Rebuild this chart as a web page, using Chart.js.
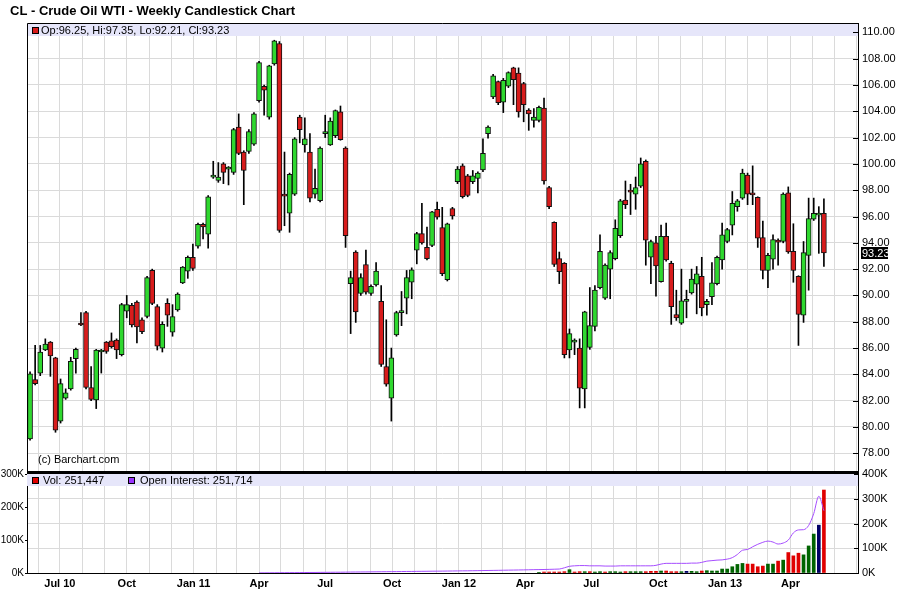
<!DOCTYPE html>
<html>
<head>
<meta charset="utf-8">
<title>CL - Crude Oil WTI - Weekly Candlestick Chart</title>
<script src="https://cdn.jsdelivr.net/npm/chart.js@4.4.1/dist/chart.umd.min.js"></script>
<style>
  html, body { margin: 0; padding: 0; background: #fff; }
  #wrap { position: relative; width: 897px; height: 594px; overflow: hidden; }
  #wrap canvas { position: absolute; left: 0; }
  #priceChart { top: 0; }
  #volChart { top: 466px; }
</style>
</head>
<body>
<div id="wrap">
  <canvas id="priceChart" width="897" height="471"></canvas>
  <canvas id="volChart" width="897" height="128"></canvas>
</div>
<script>
// Weekly bars, bar 0 is the week of 17 May 2010, last bar is the week of 13 May 2013
const opens = [
  79.1, 83.6, 84.1, 85.85, 86.45, 85.25, 80.45, 82.2, 82.9, 85.2,
  87.8, 88.7, 83.0, 82.05, 85.7, 86.45, 86.55, 86.6, 85.5, 88.8,
  89.25, 89.5, 88.15, 88.4, 91.9, 89.15, 86.0, 89.4, 87.2, 88.9,
  90.95, 91.85, 92.9, 93.75, 95.4, 94.65, 99.0, 98.75, 100.0, 99.6,
  99.35, 102.8, 100.9, 100.95, 101.5, 104.8, 105.9, 103.55, 107.6, 109.15,
  97.6, 96.25, 97.7, 103.55, 101.45, 100.9, 97.7, 97.2, 102.3, 101.45,
  102.15, 103.95, 101.2, 90.9, 93.3, 90.15, 92.35, 90.15, 90.8, 89.55,
  84.6, 82.2, 87.0, 88.7, 89.8, 91.0, 93.45, 94.7, 93.65, 93.8,
  96.55, 95.15, 91.2, 96.6, 98.65, 99.85, 99.1, 98.65, 98.9, 99.55,
  102.3, 105.1, 106.25, 104.7, 105.9, 107.3, 106.9, 106.1, 104.1, 103.3,
  103.3, 104.25, 98.2, 95.55, 92.8, 92.45, 85.85, 86.45, 86.0, 82.9,
  86.05, 87.65, 90.6, 89.8, 92.0, 92.8, 94.55, 97.25, 97.9, 97.7,
  98.3, 100.2, 92.9, 94.0, 91.05, 94.5, 92.45, 88.55, 87.9, 89.55,
  90.2, 90.85, 91.45, 89.3, 89.9, 90.9, 92.7, 94.1, 95.35, 96.75,
  97.4, 99.15, 97.7, 97.45, 94.4, 91.9, 92.75, 94.1, 94.1, 97.8,
  93.35, 91.45, 88.5, 93.05, 95.8, 96.1, 96.25
];
const highs = [
  84.2, 86.2, 86.2, 86.7, 86.5, 85.3, 83.65, 82.9, 85.3, 86.0,
  88.7, 88.8, 84.6, 85.9, 85.9, 86.5, 87.15, 86.7, 89.4, 90.0,
  89.4, 89.6, 88.3, 91.45, 92.0, 89.3, 88.0, 89.75, 89.3, 90.2,
  92.2, 93.0, 93.9, 95.5, 95.5, 97.6, 100.2, 100.1, 100.1, 99.8,
  102.7, 103.8, 101.0, 102.6, 103.9, 107.8, 106.0, 107.5, 109.4, 109.3,
  100.9, 99.3, 102.0, 103.7, 103.5, 102.3, 99.6, 101.3, 103.7, 103.5,
  104.1, 104.4, 101.3, 91.85, 93.4, 91.65, 93.45, 90.8, 92.5, 90.75,
  88.15, 86.0, 88.8, 90.3, 91.9, 92.1, 94.8, 97.0, 95.2, 96.4,
  97.1, 96.7, 95.5, 96.7, 99.8, 100.0, 99.2, 99.5, 99.4, 101.9,
  102.9, 106.8, 106.3, 106.5, 107.0, 107.35, 107.3, 106.2, 104.2, 104.2,
  104.4, 105.0, 98.3, 95.6, 93.3, 92.5, 87.45, 86.7, 86.7, 88.8,
  90.6, 90.75, 94.6, 92.4, 93.4, 95.75, 97.3, 98.7, 98.45, 99.0,
  100.45, 100.3, 94.2, 94.5, 95.35, 95.5, 92.6, 90.4, 92.0, 90.4,
  92.0, 92.2, 92.9, 89.7, 92.5, 93.0, 95.5, 95.1, 97.9, 97.3,
  99.6, 99.3, 99.85, 97.5, 95.65, 93.2, 94.6, 94.3, 97.8, 98.25,
  95.45, 91.5, 94.1, 97.4, 97.4, 96.75, 97.35
];
const lows = [
  79.0, 83.2, 83.9, 85.8, 83.85, 79.6, 80.3, 82.1, 82.8, 84.1,
  87.7, 82.9, 82.0, 81.4, 84.1, 85.6, 86.0, 85.2, 85.4, 88.3,
  87.6, 86.4, 87.1, 88.3, 89.3, 85.85, 85.7, 87.65, 86.9, 88.8,
  90.9, 91.3, 91.9, 93.6, 94.3, 93.6, 98.9, 98.6, 98.5, 98.4,
  99.2, 100.7, 96.9, 100.8, 101.4, 104.7, 103.7, 103.4, 107.5, 94.8,
  95.3, 94.8, 97.6, 101.6, 100.9, 97.1, 97.4, 97.1, 102.0, 101.4,
  102.0, 101.8, 93.65, 87.1, 87.95, 90.0, 90.1, 90.0, 90.7, 84.6,
  83.1, 80.45, 86.9, 87.7, 88.6, 89.75, 92.4, 93.9, 92.7, 93.7,
  95.8, 91.5, 91.1, 95.8, 98.5, 97.4, 97.5, 98.5, 97.8, 99.4,
  101.95, 104.95, 104.5, 103.9, 105.8, 104.5, 103.55, 103.2, 102.55, 102.8,
  103.2, 98.45, 96.6, 92.2, 90.9, 85.25, 85.25, 85.5, 81.45, 81.45,
  85.9, 87.3, 90.5, 89.7, 89.75, 92.7, 94.4, 96.6, 96.15, 96.55,
  98.2, 92.3, 90.9, 89.95, 91.0, 92.6, 87.8, 88.1, 87.8, 88.3,
  90.1, 88.6, 88.45, 88.5, 89.3, 90.8, 92.0, 94.0, 94.6, 96.4,
  97.3, 96.9, 96.9, 93.65, 91.25, 90.6, 92.0, 92.3, 94.0, 93.2,
  91.0, 86.2, 87.95, 90.4, 95.7, 93.2, 92.21
];
const closes = [
  84.05, 83.3, 85.7, 86.3, 85.4, 79.75, 83.3, 82.6, 85.0, 85.9,
  87.75, 83.0, 82.1, 85.85, 85.75, 85.75, 86.1, 85.85, 89.3, 89.3,
  87.75, 87.6, 87.25, 91.35, 89.4, 86.15, 87.8, 88.5, 88.4, 90.1,
  92.15, 92.9, 92.05, 95.4, 95.2, 97.5, 99.05, 99.0, 99.35, 99.6,
  102.6, 100.8, 99.5, 102.45, 103.8, 107.7, 105.6, 107.45, 109.35, 94.95,
  97.55, 99.2, 101.9, 102.6, 101.9, 97.4, 98.15, 101.2, 102.3, 103.25,
  104.05, 101.85, 94.55, 91.35, 88.75, 91.35, 90.25, 90.7, 91.85, 84.75,
  83.25, 85.25, 88.7, 88.75, 91.35, 91.95, 94.7, 94.0, 92.8, 96.35,
  95.95, 91.65, 95.45, 96.05, 99.6, 97.5, 97.6, 99.1, 99.3, 100.8,
  102.8, 106.7, 104.65, 106.35, 106.95, 106.4, 103.95, 104.5, 103.8, 103.55,
  104.3, 98.7, 96.75, 92.35, 91.8, 85.5, 87.1, 86.6, 82.95, 88.75,
  87.7, 90.4, 93.35, 92.3, 93.25, 95.1, 97.2, 96.9, 97.85, 98.2,
  100.0, 94.2, 94.1, 92.25, 94.5, 92.7, 89.15, 88.3, 89.6, 89.6,
  91.25, 91.65, 89.05, 89.55, 90.95, 92.9, 94.6, 95.0, 97.0, 97.2,
  99.3, 97.7, 97.65, 94.35, 91.9, 93.05, 94.25, 94.05, 97.7, 93.3,
  91.9, 88.55, 93.25, 95.85, 96.25, 96.25, 93.23
];

// volume starts at bar 100, open interest at bar 45
const volStart = 100;
const volume = [
  2000, 3000, 3000, 3000, 3000, 4000, 10000, 3000, 4000, 4000,
  4000, 3000, 4000, 3000, 4000, 4000, 3000, 4000, 4000, 4000,
  4000, 4000, 5000, 5000, 6000, 6000, 4000, 4000, 4000, 5000,
  5000, 4000, 6000, 7000, 6000, 6000, 12000, 12000, 19000, 26000,
  29000, 27000, 27000, 19000, 21000, 27000, 27000, 36000, 39000, 62000,
  52000, 60000, 55000, 82000, 118000, 145000, 251447
];
const oiStart = 45;
const openInterest = [
  400, 600, 700, 900, 1100, 1200, 1400, 1500, 1700, 1900, 2100, 2200, 2500, 2700, 2900,
  3100, 3200, 3500, 3800, 4000, 4200, 4300, 4600, 4800, 5100, 5300, 5500, 5600, 5900, 6200,
  6300, 6600, 6800, 7000, 7300, 7400, 7600, 7900, 8100, 8400, 8700, 8900, 9200, 9500, 9900,
  10200, 10500, 10800, 11200, 11600, 11900, 12200, 12600, 13000, 13500, 13800, 14200, 14700, 15300, 16000,
  21000, 27000, 29000, 30000, 30000, 29000, 29000, 29000, 28000, 28000, 28000, 29000,
  29000, 29000, 29000, 29000, 29000, 29000, 31000, 36000, 39000, 39000, 39000, 39000,
  39000, 40000, 40000, 43000, 48000, 50000, 52000, 53000, 56000, 62000, 75000, 92000,
  95000, 106000, 116000, 124000, 129000, 125000, 117000, 121000, 133000, 162000, 174000, 175000,
  192000, 240000, 310000, 251714
];

const priceTicks = [78, 80, 82, 84, 86, 88, 90, 92, 94, 96, 98, 100, 102, 104, 106, 108, 110];
const volTicks = [0, 100000, 200000, 300000];
const oiTicks = [0, 100000, 200000, 300000, 400000];
const tickMonths = ['2010-07', '2010-10', '2011-01', '2011-04', '2011-07', '2011-10',
                    '2012-01', '2012-04', '2012-07', '2012-10', '2013-01', '2013-04'];
const tickLabels = ['Jul 10', 'Oct', 'Jan 11', 'Apr', 'Jul', 'Oct',
                    'Jan 12', 'Apr', 'Jul', 'Oct', 'Jan 13', 'Apr'];

const FONT = '"Liberation Sans", Arial, sans-serif';
const UP = '#2fd82f';
const DOWN = '#d81c1c';
const BAND = '#e6e6fa';
const GRID = '#dadada';
const X_MIN = -0.6;
const X_MAX = 162.7;

Chart.defaults.font.family = FONT;
Chart.defaults.font.size = 11;
Chart.defaults.color = '#000';

// month grid lines on the week axis
const weekZero = Date.UTC(2010, 4, 21);
const weekMs = 7 * 86400000;
const monthGrid = [];
for (let y = 2010; y <= 2013; y++) {
  for (let m = 0; m < 12; m++) {
    const pos = (Date.UTC(y, m, 1) - weekZero) / weekMs;
    if (pos <= X_MIN || pos >= X_MAX) continue;
    const key = y + '-' + String(m + 1).padStart(2, '0');
    const k = tickMonths.indexOf(key);
    monthGrid.push({ value: pos, label: k >= 0 ? tickLabels[k] : '' });
  }
}

const bodyColors = closes.map((c, i) => c >= opens[i] ? UP : DOWN);
const volColors = volume.map((v, k) => {
  const i = volStart + k;
  const d = closes[i] - closes[i - 1];
  if (Math.abs(d) < 0.001) return '#000066';
  return d > 0 ? '#006400' : '#e00000';
});

function noPad(s) {
  s.paddingTop = 0; s.paddingBottom = 0; s.paddingLeft = 0; s.paddingRight = 0;
}

function monthAxis(showLabels, height) {
  return {
    type: 'linear',
    offset: false,
    min: X_MIN,
    max: X_MAX,
    afterBuildTicks: ax => { ax.ticks = monthGrid.map(t => ({ value: t.value })); },
    ticks: {
      display: showLabels,
      autoSkip: false,
      maxRotation: 0,
      padding: 4,
      font: { size: 11, weight: 'bold' },
      callback: (v, i) => monthGrid[i] ? monthGrid[i].label : ''
    },
    grid: { color: GRID, drawTicks: false, offset: false },
    border: { display: showLabels, color: '#000' },
    afterFit: s => { s.height = height; noPad(s); }
  };
}

// Price panel decorations
const pricePanel = {
  id: 'pricePanel',
  beforeDatasetsDraw(chart) {
    const { ctx, chartArea: a } = chart;
    ctx.save();
    ctx.fillStyle = BAND;
    ctx.fillRect(a.left, a.top, a.right - a.left, 13);
    ctx.restore();
  },
  afterDraw(chart) {
    const { ctx, chartArea: a, scales } = chart;
    const last = closes.length - 1;
    ctx.save();
    ctx.strokeStyle = '#000';
    ctx.lineWidth = 1;
    ctx.beginPath();
    ctx.moveTo(a.left + 0.5, a.bottom);
    ctx.lineTo(a.left + 0.5, a.top + 0.5);
    ctx.lineTo(a.right, a.top + 0.5);
    priceTicks.forEach(v => {
      const y = Math.round(scales.y.getPixelForValue(v)) + 0.5;
      ctx.moveTo(a.right - 5, y);
      ctx.lineTo(a.right, y);
    });
    ctx.stroke();

    // title
    ctx.fillStyle = '#000';
    ctx.font = 'bold 13px ' + FONT;
    ctx.textBaseline = 'alphabetic';
    ctx.fillText('CL - Crude Oil WTI - Weekly Candlestick Chart', 10, 15);

    // legend
    ctx.fillStyle = DOWN;
    ctx.fillRect(32, 27, 7, 7);
    ctx.strokeRect(32.5, 27.5, 6, 6);
    ctx.fillStyle = '#000';
    ctx.font = '11px ' + FONT;
    ctx.fillText('Op:' + opens[last].toFixed(2) + ', Hi:' + highs[last].toFixed(2) +
      ', Lo:' + lows[last].toFixed(2) + ', Cl:' + closes[last].toFixed(2), 41, 34);

    ctx.fillText('(c) Barchart.com', 38, 463);

    // last price marker
    const yl = scales.y.getPixelForValue(closes[last]);
    ctx.fillStyle = '#000';
    ctx.fillRect(861, Math.round(yl) - 6, 27, 12);
    ctx.fillStyle = '#fff';
    ctx.textBaseline = 'middle';
    ctx.fillText(closes[last].toFixed(2), 862, Math.round(yl) + 0.5);
    ctx.restore();
  }
};

new Chart(document.getElementById('priceChart'), {
  type: 'bar',
  data: {
    datasets: [
      {
        label: 'Range',
        data: closes.map((c, i) => ({ x: i, y: [lows[i], highs[i]] })),
        backgroundColor: '#000',
        barThickness: 1,
        maxBarThickness: 1,
        grouped: false,
        order: 2
      },
      {
        label: 'Body',
        data: closes.map((c, i) => ({ x: i, y: [opens[i], c] })),
        backgroundColor: bodyColors,
        borderColor: '#111',
        borderWidth: 1,
        borderSkipped: false,
        minBarLength: 2,
        barThickness: 5,
        maxBarThickness: 5,
        grouped: false,
        order: 1
      }
    ]
  },
  options: {
    responsive: false,
    animation: false,
    events: [],
    layout: { padding: { left: 27, top: 23, right: 0, bottom: 0 } },
    plugins: { legend: { display: false }, tooltip: { enabled: false } },
    scales: {
      x: monthAxis(false, 0),
      y: {
        position: 'right',
        min: 76.655,
        max: 110.71,
        afterBuildTicks: ax => { ax.ticks = priceTicks.map(v => ({ value: v })); },
        ticks: { padding: 4, callback: v => v.toFixed(2) },
        grid: { color: GRID, drawTicks: false },
        border: { color: '#000' },
        afterFit: s => { s.width = 39; noPad(s); }
      }
    }
  },
  plugins: [pricePanel]
});

// Volume panel decorations
const volPanel = {
  id: 'volPanel',
  beforeDatasetsDraw(chart) {
    const { ctx, chartArea: a } = chart;
    ctx.save();
    ctx.fillStyle = BAND;
    ctx.fillRect(a.left, a.top, a.right - a.left, 12);
    ctx.restore();
  },
  afterDraw(chart) {
    const { ctx, chartArea: a, scales } = chart;
    ctx.save();
    ctx.fillStyle = '#000';
    ctx.fillRect(a.left, a.top - 3, a.right - a.left + 1, 3);

    ctx.strokeStyle = '#000';
    ctx.lineWidth = 1;
    ctx.beginPath();
    oiTicks.forEach(v => {
      const y = Math.round(scales.yOI.getPixelForValue(v)) + 0.5;
      ctx.moveTo(a.right - 4, y);
      ctx.lineTo(a.right, y);
    });
    ctx.stroke();

    ctx.font = '11px ' + FONT;
    ctx.textBaseline = 'alphabetic';
    ctx.fillStyle = '#e00000';
    ctx.fillRect(32, a.top + 3, 7, 7);
    ctx.strokeRect(32.5, a.top + 3.5, 6, 6);
    ctx.fillStyle = '#000';
    ctx.fillText('Vol: ' + volume[volume.length - 1].toLocaleString('en-US'), 43, a.top + 10);
    ctx.fillStyle = '#9a33ff';
    ctx.fillRect(128, a.top + 3, 7, 7);
    ctx.strokeRect(128.5, a.top + 3.5, 6, 6);
    ctx.fillStyle = '#000';
    ctx.fillText('Open Interest: ' + openInterest[openInterest.length - 1].toLocaleString('en-US'), 140, a.top + 10);
    ctx.restore();
  }
};

new Chart(document.getElementById('volChart'), {
  type: 'bar',
  data: {
    datasets: [
      {
        type: 'line',
        label: 'Open Interest',
        data: openInterest.map((v, k) => ({ x: oiStart + k, y: v })),
        yAxisID: 'yOI',
        borderColor: '#a64dff',
        borderWidth: 1,
        pointRadius: 0,
        cubicInterpolationMode: 'monotone',
        order: 0
      },
      {
        label: 'Vol',
        data: volume.map((v, k) => ({ x: volStart + k, y: v })),
        yAxisID: 'yVol',
        backgroundColor: volColors,
        barThickness: 3,
        maxBarThickness: 3,
        order: 1
      }
    ]
  },
  options: {
    responsive: false,
    animation: false,
    events: [],
    layout: { padding: { left: 0, top: 8, right: 0, bottom: 0 } },
    plugins: { legend: { display: false }, tooltip: { enabled: false } },
    scales: {
      x: monthAxis(true, 21),
      yVol: {
        position: 'left',
        min: 0,
        max: 300000,
        afterBuildTicks: ax => { ax.ticks = volTicks.map(v => ({ value: v })); },
        ticks: { padding: 1, font: { size: 10 }, callback: v => (v / 1000) + 'K' },
        grid: { display: true, drawOnChartArea: false, drawTicks: true, tickLength: 2, color: '#000' },
        border: { color: '#000' },
        afterFit: s => { s.width = 27; noPad(s); }
      },
      yOI: {
        position: 'right',
        min: 0,
        max: 400000,
        afterBuildTicks: ax => { ax.ticks = oiTicks.map(v => ({ value: v })); },
        ticks: { padding: 4, callback: v => (v / 1000) + 'K' },
        grid: { color: GRID, drawTicks: false },
        border: { color: '#000' },
        afterFit: s => { s.width = 39; noPad(s); }
      }
    }
  },
  plugins: [volPanel]
});
</script>
</body>
</html>
